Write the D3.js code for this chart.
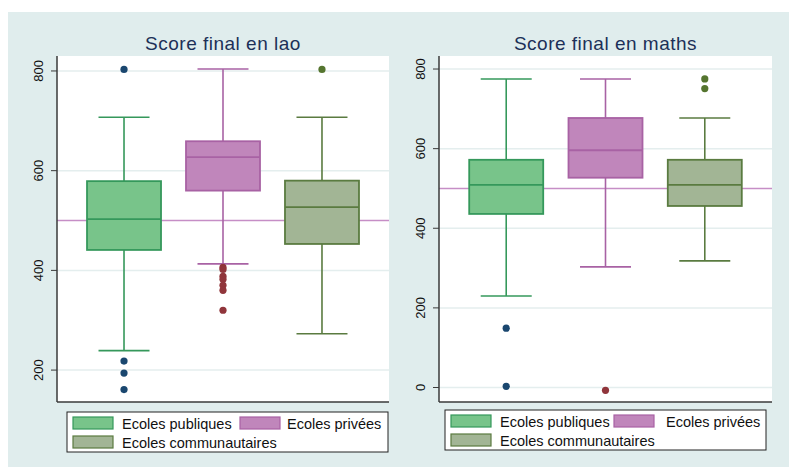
<!DOCTYPE html>
<html>
<head>
<meta charset="utf-8">
<script src="https://cdn.jsdelivr.net/npm/d3@7/dist/d3.min.js"></script>
<style>
  html, body { margin: 0; padding: 0; background: #ffffff; }
  svg { display: block; font-family: "Liberation Sans", Arial, sans-serif; }
</style>
</head>
<body>
<svg id="chart" width="789" height="468"></svg>
<script>
// Groups shown in each panel
const categories = ["Ecoles publiques", "Ecoles privées", "Ecoles communautaires"];

// Score final en lao: five-number summaries and outliers per group
const laoLower  = [239, 413, 273];
const laoQ1     = [441, 560, 453];
const laoMedian = [503, 627, 527];
const laoQ3     = [579, 659, 580];
const laoUpper  = [707, 804, 707];
const laoOutliers = [[803, 218, 194, 161], [406, 402, 388, 382, 370, 360, 320], [803]];
const laoTicks = [200, 400, 600, 800];
const laoReference = 500;

// Score final en maths
const mathLower  = [230, 303, 318];
const mathQ1     = [436, 527, 456];
const mathMedian = [509, 596, 509];
const mathQ3     = [572, 677, 572];
const mathUpper  = [775, 775, 677];
const mathOutliers = [[149, 3], [-7], [775, 751]];
const mathTicks = [0, 200, 400, 600, 800];
const mathReference = 500;

const fills   = ["#78c48a", "#c086bb", "#a2b595"];
const strokes = ["#35985b", "#a862a4", "#5a7b40"];
const dotColors = ["#1a476f", "#90353b", "#55752f"];

const svg = d3.select("#chart");

// Outer graph region
svg.append("rect")
  .attr("x", 8).attr("y", 12).attr("width", 781).attr("height", 455)
  .attr("fill", "#e0eded");

function panel(cfg) {
  const g = svg.append("g");
  const x = d3.scalePoint().domain(categories).range([cfg.x0, cfg.x1]).padding(0.677);
  const y = d3.scaleLinear().domain(cfg.domain).range([402, 56]);

  // plot area
  g.append("rect")
    .attr("x", cfg.x0).attr("y", 56)
    .attr("width", cfg.x1 - cfg.x0).attr("height", 402 - 56)
    .attr("fill", "#ffffff");

  // grid lines
  g.selectAll(".grid").data(cfg.ticks).join("line")
    .attr("x1", cfg.x0).attr("x2", cfg.x1)
    .attr("y1", d => y(d)).attr("y2", d => y(d))
    .attr("stroke", "#e4eeee").attr("stroke-width", 1.5);

  // reference line
  g.append("line")
    .attr("x1", cfg.x0).attr("x2", cfg.x1)
    .attr("y1", y(cfg.reference)).attr("y2", y(cfg.reference))
    .attr("stroke", "#c68ec6").attr("stroke-width", 1.5);

  const boxW = 74, capW = 51;
  categories.forEach((c, i) => {
    const cx = x(c);
    const col = strokes[i];
    // whiskers
    g.append("line").attr("x1", cx).attr("x2", cx)
      .attr("y1", y(cfg.q3[i])).attr("y2", y(cfg.upper[i]))
      .attr("stroke", col).attr("stroke-width", 1.6);
    g.append("line").attr("x1", cx).attr("x2", cx)
      .attr("y1", y(cfg.q1[i])).attr("y2", y(cfg.lower[i]))
      .attr("stroke", col).attr("stroke-width", 1.6);
    // caps
    [cfg.upper[i], cfg.lower[i]].forEach(v => {
      g.append("line").attr("x1", cx - capW / 2).attr("x2", cx + capW / 2)
        .attr("y1", y(v)).attr("y2", y(v))
        .attr("stroke", col).attr("stroke-width", 1.6);
    });
    // box
    g.append("rect")
      .attr("x", cx - boxW / 2).attr("y", y(cfg.q3[i]))
      .attr("width", boxW).attr("height", y(cfg.q1[i]) - y(cfg.q3[i]))
      .attr("fill", fills[i]).attr("stroke", col).attr("stroke-width", 1.8);
    // median
    g.append("line").attr("x1", cx - boxW / 2).attr("x2", cx + boxW / 2)
      .attr("y1", y(cfg.median[i])).attr("y2", y(cfg.median[i]))
      .attr("stroke", col).attr("stroke-width", 1.8);
    // outliers
    g.selectAll(null).data(cfg.outliers[i]).join("circle")
      .attr("cx", cx).attr("cy", d => y(d)).attr("r", 3.6)
      .attr("fill", dotColors[i]);
  });

  // axes
  g.append("line").attr("x1", cfg.x0).attr("x2", cfg.x0)
    .attr("y1", 56).attr("y2", 402).attr("stroke", "#3a3a3a").attr("stroke-width", 1.5);
  g.append("line").attr("x1", cfg.x0).attr("x2", cfg.x1)
    .attr("y1", 402).attr("y2", 402).attr("stroke", "#3a3a3a").attr("stroke-width", 1.5);

  g.selectAll(".tick").data(cfg.ticks).join("line")
    .attr("x1", cfg.x0 - 6).attr("x2", cfg.x0)
    .attr("y1", d => y(d)).attr("y2", d => y(d))
    .attr("stroke", "#3a3a3a").attr("stroke-width", 1);

  g.selectAll(".tl").data(cfg.ticks).join("text")
    .attr("transform", d => `translate(${cfg.x0 - 14},${y(d)}) rotate(-90)`)
    .attr("text-anchor", "middle")
    .attr("font-size", 13).attr("fill", "#111")
    .text(d => d);

  // title
  g.append("text")
    .attr("x", (cfg.x0 + cfg.x1) / 2).attr("y", 50)
    .attr("text-anchor", "middle").attr("font-size", 19)
    .attr("letter-spacing", 0.5)
    .attr("fill", "#1c3058")
    .text(cfg.title);

  // legend
  const L = cfg.legend;
  g.append("rect").attr("x", L.x).attr("y", L.y).attr("width", L.w).attr("height", 40)
    .attr("fill", "#ffffff").attr("stroke", "#222").attr("stroke-width", 1);
  const items = [
    { i: 0, sx: L.x + 6,  sy: L.y + 5,  tx: L.x + 55 },
    { i: 1, sx: L.x + L.s2, sy: L.y + 5, tx: L.x + L.t2 },
    { i: 2, sx: L.x + 6,  sy: L.y + 24, tx: L.x + 55 }
  ];
  items.forEach(it => {
    g.append("rect").attr("x", it.sx).attr("y", it.sy).attr("width", 40).attr("height", 12)
      .attr("fill", fills[it.i]).attr("stroke", strokes[it.i]).attr("stroke-width", 1.2);
    g.append("text").attr("x", it.tx).attr("y", it.sy + 11.5)
      .attr("font-size", 14.5).attr("fill", "#111")
      .text(categories[it.i]);
  });
}

panel({
  title: "Score final en lao", x0: 57, x1: 389, domain: [136, 830],
  lower: laoLower, q1: laoQ1, median: laoMedian, q3: laoQ3, upper: laoUpper,
  outliers: laoOutliers, ticks: laoTicks, reference: laoReference,
  legend: { x: 67, y: 412, w: 321, s2: 173, t2: 220 }
});

panel({
  title: "Score final en maths", x0: 439, x1: 772, domain: [-36.4, 832.7],
  lower: mathLower, q1: mathQ1, median: mathMedian, q3: mathQ3, upper: mathUpper,
  outliers: mathOutliers, ticks: mathTicks, reference: mathReference,
  legend: { x: 445, y: 410, w: 321, s2: 169, t2: 221 }
});
</script>
</body>
</html>
